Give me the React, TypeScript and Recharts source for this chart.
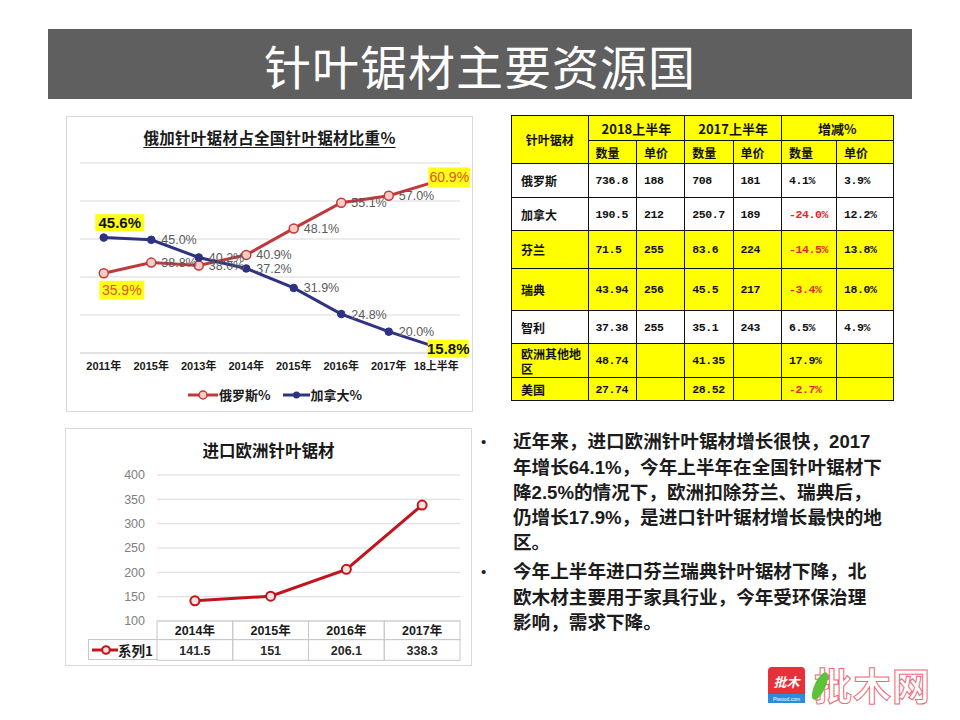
import React from 'react';
import { LineChart, Line, XAxis, YAxis, CartesianGrid } from 'recharts';

// ---------- Top chart data ----------
const shareYears = ['2011年', '2015年', '2013年', '2014年', '2015年', '2016年', '2017年', '18上半年'];
const russiaShare = [35.9, 38.8, 38.0, 40.9, 48.1, 55.1, 57.0, 60.9];
const canadaShare = [45.6, 45.0, 40.2, 37.2, 31.9, 24.8, 20.0, 15.8];
const shareGridTicks = [14.2, 19.37, 24.54, 29.71, 34.88, 40.05, 45.22, 50.39, 55.56, 60.73, 65.9];

// ---------- Bottom chart data ----------
const euroYears = ['2014年', '2015年', '2016年', '2017年'];
const euroValues = [141.5, 151, 206.1, 338.3];
const euroTicks = [100, 150, 200, 250, 300, 350, 400];

// ---------- Table data ----------
const tableRegions = ['俄罗斯', '加拿大', '芬兰', '瑞典', '智利', '欧洲其他地区', '美国'];
const qty2018 = ['736.8', '190.5', '71.5', '43.94', '37.38', '48.74', '27.74'];
const price2018 = ['188', '212', '255', '256', '255', '', ''];
const qty2017 = ['708', '250.7', '83.6', '45.5', '35.1', '41.35', '28.52'];
const price2017 = ['181', '189', '224', '217', '243', '', ''];
const qtyChange = ['4.1%', '-24.0%', '-14.5%', '-3.4%', '6.5%', '17.9%', '-2.7%'];
const priceChange = ['3.9%', '12.2%', '13.8%', '18.0%', '4.9%', '', ''];
const yellowRegions = ['芬兰', '瑞典', '欧洲其他地区', '美国'];

const LATIN = '"Liberation Sans", Arial, "Noto Sans CJK SC", sans-serif';
const CJK = '"Noto Sans CJK SC", "Liberation Sans", sans-serif';
const MONO = '"Liberation Mono", "DejaVu Sans Mono", monospace';

const shareData = shareYears.map((y, i) => ({ idx: i, year: y, russia: russiaShare[i], canada: canadaShare[i] }));
const euroData = euroYears.map((y, i) => ({ year: y, value: euroValues[i] }));

const RED = '#c0393b';
const NAVY = '#2f3282';

function renderShareLabel(p: any, series: 'russia' | 'canada') {
  const { x, y, value, index } = p;
  const last = russiaShare.length - 1;
  const text = `${Number(value).toFixed(1)}%`;
  if (index === 0 || index === last) {
    let cx = 0, cy = 0, w = 44, h = 19, color = '#e2541b', bold = false, fs = 14;
    if (series === 'russia' && index === 0) { cx = x + 18; cy = y + 17; w = 45; h = 19; }
    if (series === 'canada' && index === 0) { cx = x + 16; cy = y - 15; w = 49; h = 17; color = '#111'; bold = true; fs = 15; }
    if (series === 'russia' && index === last) { cx = x + 13; cy = y - 4; w = 42; h = 20; }
    if (series === 'canada' && index === last) { cx = x + 12; cy = y + 1.5; w = 41; h = 18; color = '#111'; bold = true; fs = 15; }
    return (
      <g>
        <rect x={cx - w / 2} y={cy - h / 2} width={w} height={h} fill="#ffff1a" />
        <text x={cx} y={cy} dy={5} textAnchor="middle" fill={color} fontSize={fs} fontWeight={bold ? 700 : 400} fontFamily={LATIN}>{text}</text>
      </g>
    );
  }
  return (
    <text x={x + 10} y={y} dy={4.5} fill="#5a5a5a" fontSize={12.5} fontFamily={LATIN}>{text}</text>
  );
}

function ShareChart() {
  return (
    <div style={{ position: 'absolute', left: 66, top: 116, width: 407, height: 296, border: '1px solid #d9d9d9', boxSizing: 'border-box', background: '#fff' }}>
      <div style={{ position: 'absolute', left: 0, top: 9, width: '100%', textAlign: 'center', fontFamily: CJK, fontWeight: 700, fontSize: 15.5, color: '#1a1a1a', textDecoration: 'underline', textUnderlineOffset: 3, letterSpacing: 0.3 }}>
        俄加针叶锯材占全国针叶锯材比重%
      </div>
      <LineChart width={405} height={294} data={shareData} margin={{ top: 46, right: 12, left: 13, bottom: 28 }}>
        <CartesianGrid vertical={false} stroke="#d9d9d9" />
        <YAxis hide domain={[14.2, 65.9]} ticks={shareGridTicks} />
        <XAxis
          dataKey="idx"
          type="category"
          height={30}
          padding={{ left: 23.75, right: 23.75 }}
          axisLine={{ stroke: '#d9d9d9' }}
          tickLine={false}
          tickSize={0}
          tickMargin={9}
          tickFormatter={(v: any) => shareYears[v]}
          tick={{ fill: '#1a1a1a', fontSize: 11, fontWeight: 700, fontFamily: LATIN }}
          interval={0}
        />
        <Line dataKey="russia" stroke={RED} strokeWidth={3} isAnimationActive={false}
          dot={{ r: 4.5, fill: '#f7cdc6', stroke: RED, strokeWidth: 1.5 }}
          label={(p: any) => renderShareLabel(p, 'russia')} />
        <Line dataKey="canada" stroke={NAVY} strokeWidth={3} isAnimationActive={false}
          dot={{ r: 3.8, fill: NAVY, stroke: NAVY, strokeWidth: 1 }}
          label={(p: any) => renderShareLabel(p, 'canada')} />
      </LineChart>
      <div style={{ position: 'absolute', left: 121, top: 268, display: 'flex', alignItems: 'center', fontFamily: CJK, fontWeight: 700, fontSize: 13, color: '#1a1a1a' }}>
        <svg width={30} height={12}><line x1={0} y1={6} x2={30} y2={6} stroke={RED} strokeWidth={3} /><circle cx={15} cy={6} r={4} fill="#f7cdc6" stroke={RED} strokeWidth={1.5} /></svg>
        <span style={{ marginLeft: 1 }}>俄罗斯%</span>
        <svg width={27} height={12} style={{ marginLeft: 12 }}><line x1={0} y1={6} x2={27} y2={6} stroke={NAVY} strokeWidth={3} /><circle cx={13.5} cy={6} r={3.5} fill={NAVY} /></svg>
        <span style={{ marginLeft: 1 }}>加拿大%</span>
      </div>
    </div>
  );
}

const BAND = 303 / 4;

function EuroTick(p: any) {
  const { x, y, payload } = p;
  const i = payload.index;
  return (
    <g>
      <rect x={x - BAND / 2} y={y} width={BAND} height={18.6} fill="none" stroke="#c8c8c8" />
      <rect x={x - BAND / 2} y={y + 18.6} width={BAND} height={20.7} fill="none" stroke="#c8c8c8" />
      <text x={x} y={y + 9.3} dy={4.5} textAnchor="middle" fontSize={12.5} fontWeight={700} fill="#1a1a1a" fontFamily={LATIN}>{payload.value}</text>
      <text x={x} y={y + 29} dy={4.5} textAnchor="middle" fontSize={12.5} fontWeight={700} fill="#2a2a2a" fontFamily={LATIN}>{euroValues[i]}</text>
    </g>
  );
}

function EuroChart() {
  return (
    <div style={{ position: 'absolute', left: 65, top: 428, width: 407, height: 238, border: '1px solid #d9d9d9', boxSizing: 'border-box', background: '#fff' }}>
      <div style={{ position: 'absolute', left: 0, top: 9, width: '100%', textAlign: 'center', fontFamily: CJK, fontWeight: 700, fontSize: 16.5, color: '#1a1a1a' }}>
        进口欧洲针叶锯材
      </div>
      <LineChart width={405} height={236} data={euroData} margin={{ top: 46, right: 11, left: 0, bottom: 4 }}>
        <CartesianGrid vertical={false} stroke="#d9d9d9" />
        <YAxis domain={[100, 400]} ticks={euroTicks} width={91} axisLine={false} tickLine={false} tickSize={0} tickMargin={12}
          tick={{ fill: '#808080', fontSize: 12.5, fontFamily: LATIN }} />
        <XAxis dataKey="year" height={40} padding={{ left: BAND / 2, right: BAND / 2 }} axisLine={false} tickLine={false}
          tickSize={0} tickMargin={0} interval={0} tick={<EuroTick />} />
        <Line dataKey="value" stroke="#c2141c" strokeWidth={3} isAnimationActive={false}
          dot={{ r: 4.5, fill: '#fbe0e0', stroke: '#c2141c', strokeWidth: 2 }} />
      </LineChart>
      <div style={{ position: 'absolute', left: 22, top: 210, width: 70, height: 21, borderTop: '1px solid #c8c8c8', borderLeft: '1px solid #c8c8c8', borderBottom: '1px solid #c8c8c8', boxSizing: 'border-box', display: 'flex', alignItems: 'center', fontFamily: CJK, fontWeight: 700, fontSize: 13.5, color: '#1a1a1a' }}>
        <svg width={26} height={12} style={{ marginLeft: 3 }}><line x1={0} y1={6} x2={26} y2={6} stroke="#c2141c" strokeWidth={3} /><circle cx={14} cy={6} r={3.8} fill="#fbe0e0" stroke="#c2141c" strokeWidth={2} /></svg>
        <span>系列1</span>
      </div>
    </div>
  );
}

function DataTable() {
  const border = '1.5px solid #111';
  const cell: React.CSSProperties = { border, padding: '0 0 0 7px', fontFamily: CJK, fontWeight: 700, fontSize: 12, color: '#111', textAlign: 'left', verticalAlign: 'middle', whiteSpace: 'normal', lineHeight: '15px' };
  const num: React.CSSProperties = { ...cell, fontFamily: MONO, fontSize: 11.5, letterSpacing: -0.4 };
  const rowHeights = [34, 33, 38, 42, 33, 34, 23];
  const cols = [76.6, 48.4, 48.3, 48.3, 48.4, 55, 56.6];
  return (
    <table style={{ position: 'absolute', left: 511, top: 115, borderCollapse: 'collapse', tableLayout: 'fixed', width: 381.6 }}>
      <colgroup>{cols.map((w, i) => <col key={i} style={{ width: w }} />)}</colgroup>
      <tbody>
        <tr style={{ height: 25, background: '#ffff00' }}>
          <td rowSpan={2} style={{ ...cell, textAlign: 'center', padding: 0, fontSize: 12 }}>针叶锯材</td>
          <td colSpan={2} style={{ ...cell, textAlign: 'center', padding: 0, fontSize: 13 }}>2018上半年</td>
          <td colSpan={2} style={{ ...cell, textAlign: 'center', padding: 0, fontSize: 13 }}>2017上半年</td>
          <td colSpan={2} style={{ ...cell, textAlign: 'center', padding: 0, fontSize: 13 }}>增减%</td>
        </tr>
        <tr style={{ height: 23, background: '#ffff00' }}>
          {['数量', '单价', '数量', '单价', '数量', '单价'].map((t, i) => <td key={i} style={cell}>{t}</td>)}
        </tr>
        {tableRegions.map((r, i) => {
          const bg = yellowRegions.includes(r) ? '#ffff00' : '#ffffff';
          const neg = qtyChange[i].startsWith('-');
          return (
            <tr key={r} style={{ height: rowHeights[i], background: bg }}>
              <td style={{ ...cell, paddingLeft: 9 }}>{r}</td>
              <td style={num}>{qty2018[i]}</td>
              <td style={num}>{price2018[i]}</td>
              <td style={num}>{qty2017[i]}</td>
              <td style={num}>{price2017[i]}</td>
              <td style={{ ...num, color: neg ? '#e3261f' : '#111' }}>{qtyChange[i]}</td>
              <td style={num}>{priceChange[i]}</td>
            </tr>
          );
        })}
      </tbody>
    </table>
  );
}

const para1 = ['近年来，进口欧洲针叶锯材增长很快，2017', '年增长64.1%，今年上半年在全国针叶锯材下', '降2.5%的情况下，欧洲扣除芬兰、瑞典后，', '仍增长17.9%，是进口针叶锯材增长最快的地', '区。'];
const para2 = ['今年上半年进口芬兰瑞典针叶锯材下降，北', '欧木材主要用于家具行业，今年受环保治理', '影响，需求下降。'];

function Bullets() {
  const lineStyle: React.CSSProperties = { whiteSpace: 'nowrap', height: 25.2, lineHeight: '25.2px' };
  const block = (lines: string[], top: number) => (
    <div style={{ position: 'absolute', left: 0, top, width: 440 }}>
      <div style={{ position: 'absolute', left: 3, top: 0, lineHeight: '25.2px', fontSize: 15, fontFamily: LATIN, color: '#222' }}>•</div>
      <div style={{ position: 'absolute', left: 35, top: 0, fontFamily: LATIN, fontWeight: 700, fontSize: 18.6, color: '#1c1c1c' }}>
        {lines.map((l, i) => <div key={i} style={lineStyle}>{l}</div>)}
      </div>
    </div>
  );
  return (
    <div style={{ position: 'absolute', left: 478, top: 0 }}>
      {block(para1, 429.4)}
      {block(para2, 559.4)}
    </div>
  );
}

function Logo() {
  return (
    <svg style={{ position: 'absolute', left: 760, top: 645 }} width={196} height={72}>
      <rect x={8} y={22} width={37} height={36} rx={4} fill="#e8303a" />
      <rect x={8} y={49} width={37} height={9} fill="#2b8be0" />
      <text x={26.5} y={42} textAnchor="middle" fontSize={13} fontWeight={700} fill="#fff" fontFamily={CJK} fontStyle="italic">批木</text>
      <text x={26.5} y={56} textAnchor="middle" fontSize={5} fill="#fff" fontFamily={LATIN}>Piwood.com</text>
      <text x={54} y={55} fontSize={38} fontFamily={CJK} fontWeight={700} fill="#fff" stroke="#ec6a78" strokeWidth={1} letterSpacing={1}>批木网</text>
      <ellipse cx={60} cy={41} rx={5.5} ry={15} transform="rotate(25 60 41)" fill="#5cc23a" />
    </svg>
  );
}

export default function App() {
  return (
    <div style={{ position: 'absolute', left: 0, top: 0, width: 960, height: 720, background: '#fff', overflow: 'hidden' }}>
      <div style={{ position: 'absolute', left: 48, top: 29, width: 864, height: 70, background: '#5f5f5f', display: 'flex', alignItems: 'center', justifyContent: 'center', color: '#fff', fontFamily: CJK, fontSize: 47, fontWeight: 400, letterSpacing: 1 }}>
        针叶锯材主要资源国
      </div>
      <ShareChart />
      <DataTable />
      <EuroChart />
      <Bullets />
      <Logo />
    </div>
  );
}
